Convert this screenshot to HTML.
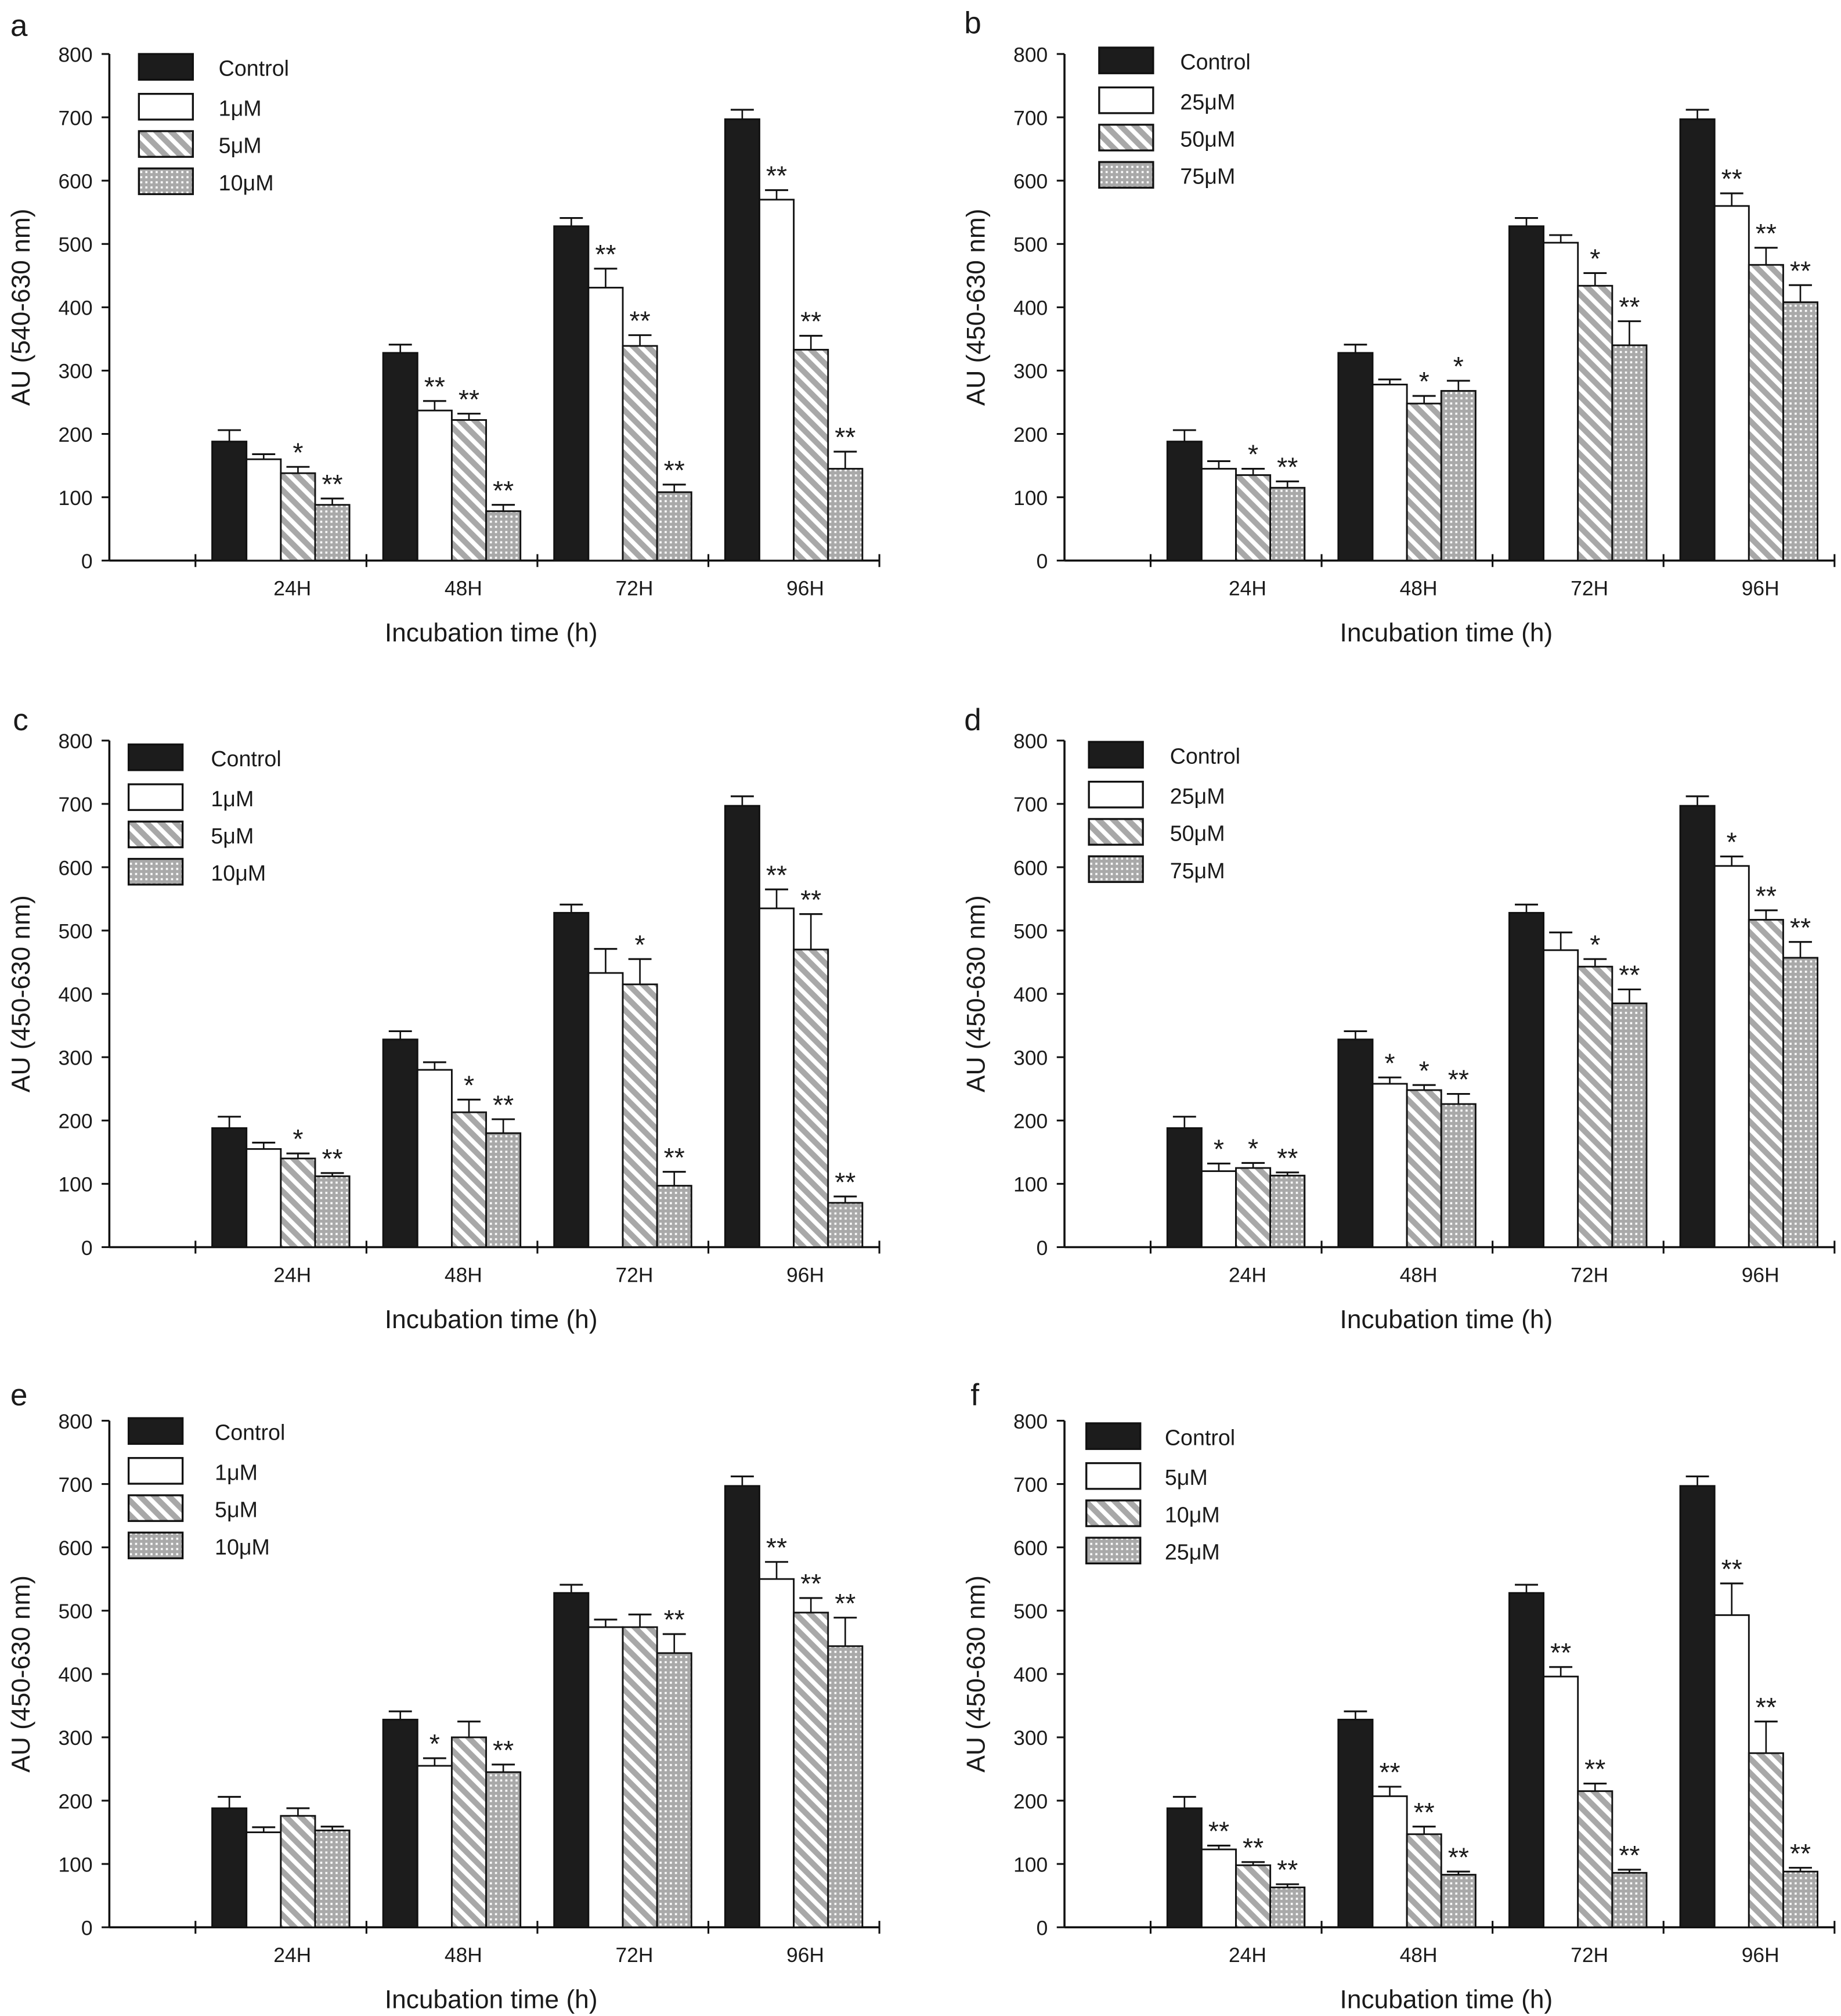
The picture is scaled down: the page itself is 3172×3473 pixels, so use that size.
<!DOCTYPE html>
<html><head><meta charset="utf-8"><style>
html,body{margin:0;padding:0;background:#fff}
svg{display:block}
text{font-family:"Liberation Sans",sans-serif;fill:#1a1a1a}
</style></head><body>
<svg id="fig" xmlns="http://www.w3.org/2000/svg" width="3172" height="3473" viewBox="0 0 1432 1568">
<defs>
<pattern id="hatch" patternUnits="userSpaceOnUse" width="8" height="8" patternTransform="rotate(45)">
<rect width="8" height="8" fill="#fff"/><rect width="8" height="4.5" fill="#a8a8a8"/></pattern>
<pattern id="dots" patternUnits="userSpaceOnUse" width="4" height="4">
<rect width="4" height="4" fill="#a9a9a9"/><rect x="1" y="1" width="1.6" height="1.6" fill="#fff"/></pattern>
</defs>
</svg>
<script>
const groups=["24H","48H","72H","96H"];
const yTicks=[0,100,200,300,400,500,600,700,800];
const controlVals=[188,328,528,697];
const controlErr=[18,13,13,15];
// panel a
const aLegend=["Control","1μM","5μM","10μM"];
const aVals=[[160,237,431,570],[138,222,339,333],[88,78,108,145]];
const aErr=[[8,15,30,15],[10,10,17,22],[10,10,12,27]];
const aStars=[["","**","**","**"],["*","**","**","**"],["**","**","**","**"]];
// panel b
const bLegend=["Control","25μM","50μM","75μM"];
const bVals=[[145,278,502,560],[135,248,434,467],[115,268,340,408]];
const bErr=[[12,8,12,20],[10,12,20,27],[10,16,38,27]];
const bStars=[["","","","**"],["*","*","*","**"],["**","*","**","**"]];
// panel c
const cLegend=["Control","1μM","5μM","10μM"];
const cVals=[[155,280,433,535],[140,213,415,470],[112,180,97,70]];
const cErr=[[10,12,38,30],[8,20,40,56],[5,22,22,10]];
const cStars=[["","","","**"],["*","*","*","**"],["**","**","**","**"]];
// panel d
const dLegend=["Control","25μM","50μM","75μM"];
const dVals=[[120,258,469,602],[125,248,443,517],[113,226,385,457]];
const dErr=[[12,10,28,15],[8,8,12,15],[5,16,22,25]];
const dStars=[["*","*","","*"],["*","*","*","**"],["**","**","**","**"]];
// panel e
const eLegend=["Control","1μM","5μM","10μM"];
const eVals=[[150,255,474,550],[176,300,474,497],[153,245,433,444]];
const eErr=[[8,12,12,27],[12,25,20,23],[6,12,30,45]];
const eStars=[["","*","","**"],["","","","**"],["","**","**","**"]];
// panel f
const fLegend=["Control","5μM","10μM","25μM"];
const fVals=[[123,207,396,493],[98,147,215,275],[63,83,86,88]];
const fErr=[[6,15,15,50],[5,12,12,50],[5,5,5,6]];
const fStars=[["**","**","**","**"],["**","**","**","**"],["**","**","**","**"]];

const NS="http://www.w3.org/2000/svg";
const svg=document.getElementById('fig');
function mk(tag,attrs,parent,txt){const e=document.createElementNS(NS,tag);for(const k in attrs)e.setAttribute(k,attrs[k]);if(txt!==undefined)e.textContent=txt;parent.appendChild(e);return e;}
const fills=["#1c1c1c","#fff","url(#hatch)","url(#dots)"];

const panels=[
 {id:"a",ox:0,oy:0,letter:[8,28],ylab:"AU (540-630 nm)",leg:aLegend,lx:108,ltx:170,ly:42,vals:aVals,err:aErr,stars:aStars},
 {id:"b",ox:743,oy:0,letter:[750,26],ylab:"AU (450-630 nm)",leg:bLegend,lx:855-743,ltx:918-743,ly:37,vals:bVals,err:bErr,stars:bStars},
 {id:"c",ox:0,oy:534,letter:[10,568],ylab:"AU (450-630 nm)",leg:cLegend,lx:100,ltx:164,ly:579-534,vals:cVals,err:cErr,stars:cStars},
 {id:"d",ox:743,oy:534,letter:[750,568],ylab:"AU (450-630 nm)",leg:dLegend,lx:847-743,ltx:910-743,ly:577-534,vals:dVals,err:dErr,stars:dStars},
 {id:"e",ox:0,oy:1063,letter:[8,1093],ylab:"AU (450-630 nm)",leg:eLegend,lx:100,ltx:167,ly:1103-1063,vals:eVals,err:eErr,stars:eStars},
 {id:"f",ox:743,oy:1063,letter:[755,1093],ylab:"AU (450-630 nm)",leg:fLegend,lx:845-743,ltx:906-743,ly:1107-1063,vals:fVals,err:fErr,stars:fStars}
];

panels.forEach(p=>{
 const g=mk('g',{transform:`translate(${p.ox},${p.oy})`},svg);
 
 
 const y0=436,ytop=42,x0=85,x1=684;
 const ys=v=>y0-(v/800)*(y0-ytop);
 const xg=i=>165+i*133;
 const bw=26.7;
 const lt=mk('text',{x:p.letter[0]-p.ox,y:p.letter[1]-p.oy,'font-size':24},g,p.id);
 
 
 const ya=mk('line',{x1:x0,y1:ytop,x2:x0,y2:y0,stroke:'#111','stroke-width':1.6},g);
 
 
 const xa=mk('line',{x1:x0,y1:y0,x2:x1,y2:y0,stroke:'#111','stroke-width':1.6},g);
 
 
 yTicks.forEach(t=>{
  mk('line',{x1:x0-6,y1:ys(t),x2:x0,y2:ys(t),stroke:'#111','stroke-width':1.4},g);
  const tl=mk('text',{x:x0-13,y:ys(t)+6,'font-size':16,'text-anchor':'end'},g,t);
  
  
 });
 for(let i=0;i<5;i++){const tx=152+i*133;mk('line',{x1:tx,y1:y0-5,x2:tx,y2:y0+5,stroke:'#111','stroke-width':1.4},g);}
 groups.forEach((gn,i)=>{
  const tl=mk('text',{x:xg(i)+bw*2+9,y:y0+27,'font-size':16,'text-anchor':'middle'},g,gn);
  
  
 });
 const yl=mk('text',{x:0,y:0,'font-size':20,'text-anchor':'middle',transform:`translate(23,${(ytop+y0)/2}) rotate(-90)`},g,p.ylab);
 
 
 const xl=mk('text',{x:382,y:y0+63,'font-size':20,'text-anchor':'middle'},g,'Incubation time (h)');
 
 
 p.leg.forEach((n,k)=>{
  const ly=p.ly+(k===0?0:31+(k-1)*29);
  const r=mk('rect',{x:p.lx,y:ly,width:42,height:20,fill:fills[k],stroke:'#111','stroke-width':1.5},g);
  
  
  const t=mk('text',{x:p.ltx,y:ly+17,'font-size':17},g,n);
  
  
 });
 groups.forEach((gn,i)=>{
  const series=[[controlVals[i],controlErr[i],""]];
  for(let s=0;s<3;s++)series.push([p.vals[s][i],p.err[s][i],p.stars[s][i]]);
  series.forEach((sv,s)=>{
   const [v,e,st]=sv;
   const bx=xg(i)+s*bw;
   const cx=bx+bw/2;
   mk('line',{x1:cx,y1:ys(v),x2:cx,y2:ys(v+e),stroke:'#111','stroke-width':1.2},g);
   mk('line',{x1:cx-9,y1:ys(v+e),x2:cx+9,y2:ys(v+e),stroke:'#111','stroke-width':1.4},g);
   const b=mk('rect',{x:bx,y:ys(v),width:bw,height:y0-ys(v),fill:fills[s],stroke:'#111','stroke-width':1.3},g);
   
   
   if(st){
    const t=mk('text',{x:cx,y:ys(v+e)-4,'font-size':21,'text-anchor':'middle'},g,st);
    
    
   }
  });
 });
});
</script>
</body></html>
